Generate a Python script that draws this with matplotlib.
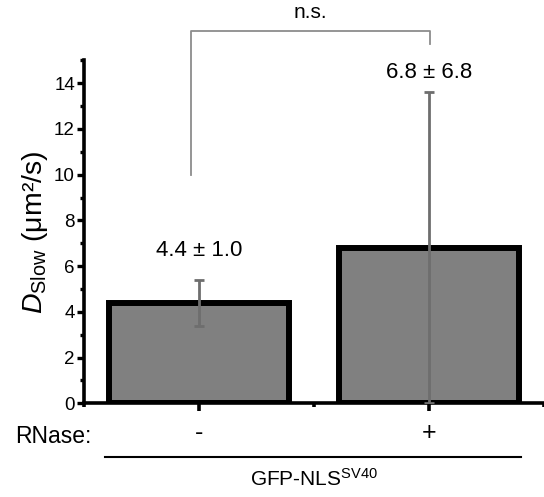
import matplotlib
matplotlib.use("Agg")
import matplotlib.pyplot as plt
from matplotlib.ticker import MultipleLocator

plt.rcParams['font.family'] = ['Liberation Sans', 'DejaVu Sans']
plt.rcParams['mathtext.fontset'] = 'custom'
plt.rcParams['mathtext.rm'] = 'Liberation Sans'
plt.rcParams['mathtext.it'] = 'Liberation Sans:italic'

# data
conditions = ['-', '+']
means = [4.4, 6.8]
errors = [1.0, 6.8]
value_labels = ['4.4 ± 1.0', '6.8 ± 6.8']
sig_label = 'n.s.'
group_label = 'GFP-NLS$^{\\mathrm{SV40}}$'

x = [1, 2]

fig = plt.figure(figsize=(5.44, 4.97), dpi=100)
ax = fig.add_axes([0.1544, 0.1885, 0.8456, 0.69])

ax.bar(x, means, width=0.785, color='#808080', edgecolor='black', linewidth=4.3, zorder=2)
ax.errorbar(x, means, yerr=errors, fmt='none', ecolor='#6e6e6e', elinewidth=2.0,
            capsize=3.3, capthick=2.0, zorder=3)

for xi, m, e, lab in zip(x, means, errors, value_labels):
    ypos = 6.7 if xi == 1 else 14.45
    ax.text(xi, ypos, lab, ha='center', va='center', fontsize=16)

ax.set_xlim(0.5, 2.5)
ax.set_ylim(0, 15)
ax.yaxis.set_major_locator(MultipleLocator(2))
ax.yaxis.set_minor_locator(MultipleLocator(1))
ax.set_xticks(x)
ax.set_xticklabels(conditions, fontsize=18)
ax.xaxis.set_minor_locator(MultipleLocator(0.5))

for s in ['top', 'right']:
    ax.spines[s].set_visible(False)
for s in ['left', 'bottom']:
    ax.spines[s].set_linewidth(2.6)
ax.tick_params(axis='y', which='major', length=5, width=2.4, direction='out', labelsize=13.5, pad=1.5)
ax.tick_params(axis='y', which='minor', length=3, width=2.4, direction='out')
ax.tick_params(axis='x', which='major', length=6, width=2.6, direction='out', pad=7)
ax.tick_params(axis='x', which='minor', length=3, width=2.6, direction='out')

ax.set_ylabel('$D_{\\mathrm{Slow}}$ (μm²/s)', fontsize=20.5, labelpad=3)

# significance bracket
gray = '#8c8c8c'
ax.plot([0.965, 0.965, 2.005, 2.005], [10.0, 16.27, 16.27, 15.73], color=gray, lw=1.3, clip_on=False)
ax.text(1.485, 17.1, sig_label, ha='center', va='center', fontsize=15)

# group annotation below
ax.text(0.017, -1.45, 'RNase:', transform=ax.get_yaxis_transform(), ha='right', va='center', fontsize=16.5)
ax.plot([0.59, 2.4], [-2.35, -2.35], color='black', lw=1.5, clip_on=False)
ax.text(1.5, -3.3, group_label, ha='center', va='center', fontsize=15)

fig.savefig('out.png', dpi=100)
